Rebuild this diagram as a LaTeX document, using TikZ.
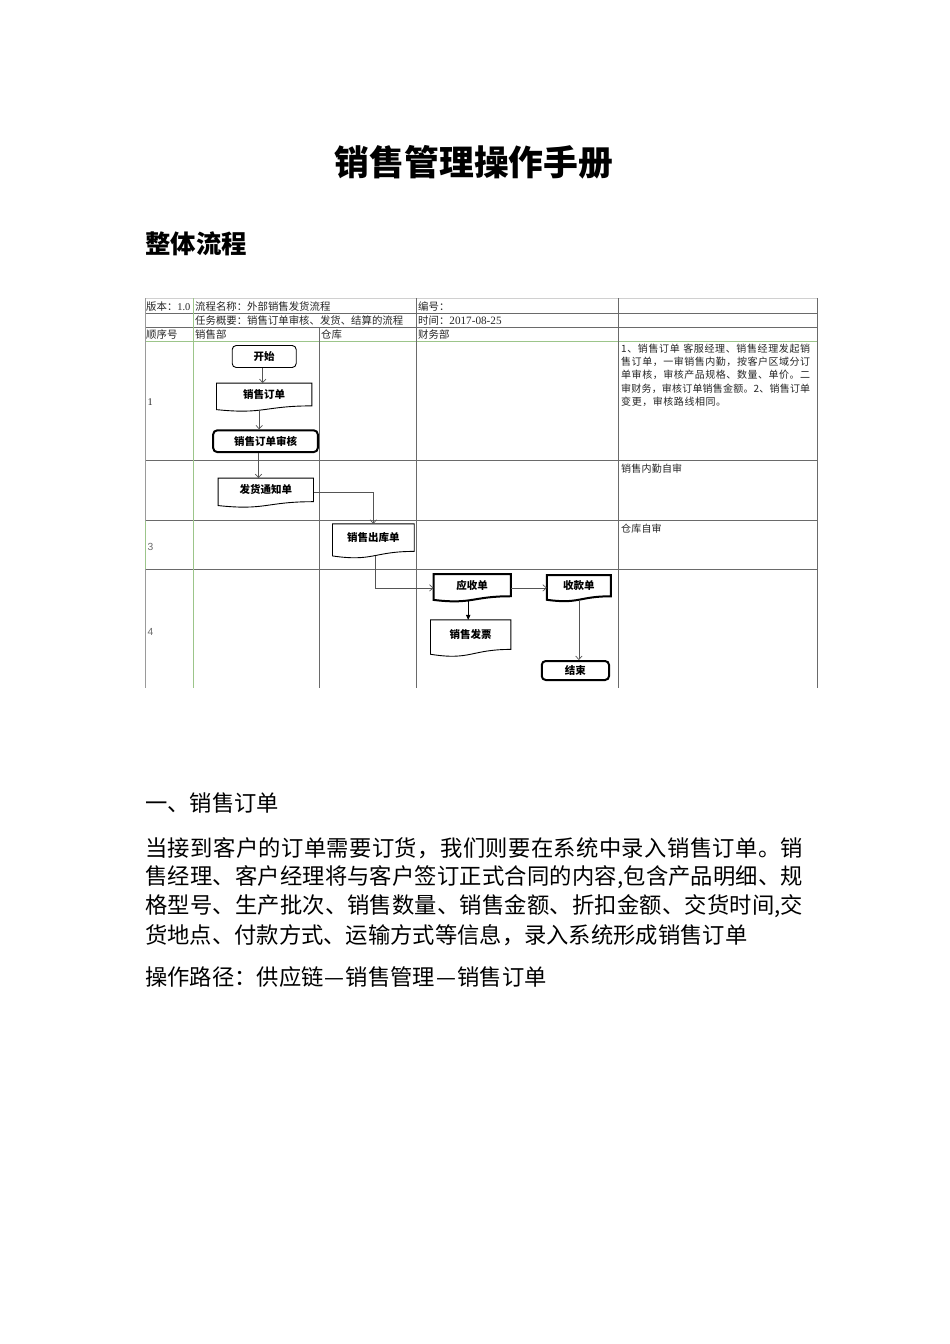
\documentclass[tikz,border=0pt]{standalone}
\usepackage{fontspec}
\setmainfont{Noto Sans CJK SC}
\newfontfamily\tser{Liberation Serif}
\newfontfamily\tsans{Liberation Sans}
\usetikzlibrary{calc,arrows.meta}

% spread characters evenly over a fixed-width box
\def\sprd#1{#1\sprdnext}
\def\sprdnext#1{\ifx#1\relax\else\hfil#1\expandafter\sprdnext\fi}
\newcommand\spreadline[2]{\makebox[#1][s]{\sprd #2\relax}}

\definecolor{gridc}{HTML}{6A6A6A}
\definecolor{greenc}{HTML}{9CC58A}
\definecolor{lightc}{HTML}{D0D0D0}
\definecolor{edgec}{HTML}{9A9A9A}
\definecolor{conc}{HTML}{555555}
\definecolor{txtc}{HTML}{262626}

\tikzset{
  grid/.style={draw=gridc, line width=0.9pt},
  ggrid/.style={draw=greenc, line width=0.9pt},
  lgrid/.style={draw=lightc, line width=0.9pt},
  egrid/.style={draw=edgec, line width=0.9pt},
  cell/.style={anchor=west, inner sep=0pt, font=\fontsize{10.4}{12}\selectfont, text=txtc},
  note/.style={anchor=west, inner sep=0pt, font=\fontsize{10}{12}\selectfont, text=txtc},
  rownum/.style={anchor=west, inner sep=0pt, font=\fontsize{10.3}{12}\selectfont, text=txtc},
  lbl/.style={inner sep=0pt, font=\fontsize{10.5}{12}\selectfont\bfseries, text=black},
  rbox/.style={draw=black, rounded corners=4pt, line width=0.9pt, inner sep=0pt, font=\fontsize{10.5}{12}\selectfont\bfseries},
  rboxb/.style={rbox, line width=2pt},
  dframe/.style={draw=none, inner sep=0pt},
  dline/.style={draw=black, line width=0.9pt},
  dlineb/.style={draw=black, line width=2pt},
  con/.style={draw=conc, line width=0.7pt, -{Straight Barb[length=3.5pt,width=6.5pt]}},
  conf/.style={draw=black, line width=0.7pt, -{Triangle[length=5pt,width=4.5pt]}},
  body/.style={anchor=west, inner sep=0pt, font=\fontsize{22.3}{29}\selectfont, text=black},
}

% document-shape: name, x1, y1, x2, y2, text, line style
\newcommand\docshape[7]{%
  \node[dframe, minimum width={#4-#2}, minimum height={#5-#3}] (#1) at ({(#2+#4)/2},{(#3+#5)/2}) {};
  \draw[#7] (#1.north west) -- (#1.north east) -- ($(#1.north east)!0.802!(#1.south east)$)
     .. controls ($(#1.north)!0.802!(#1.south)$) and ($(#1.north)!1.108!(#1.south)$) ..
     ($(#1.north west)!0.934!(#1.south west)$) -- cycle;
  \node[lbl] (#1-t) at ($(#1.north)!0.4!(#1.south)$) {#6};
  \coordinate (#1-b) at ($(#1.north)!0.933!(#1.south)$);
}

\begin{document}
\begin{tikzpicture}[x=1pt,y=-1pt]
\useasboundingbox (0,0) rectangle (950,1344);
\fill[white] (0,0) rectangle (950,1344);

% ---------- headings ----------
\node[font=\fontsize{34.8}{40}\selectfont\bfseries, inner sep=0pt] (title) at (474,162) {销售管理操作手册};
\node[font=\fontsize{25.4}{30}\selectfont\bfseries, inner sep=0pt, anchor=west] (sec) at (145,244) {整体流程};

% ---------- table grid ----------
\draw[lgrid] (145,298.3) -- (817,298.3);
\draw[grid] (145,313.5) -- (817,313.5);
\draw[grid] (145,327.3) -- (817,327.3);
\draw[ggrid] (145,341.5) -- (817,341.5);
\draw[grid] (145,460.5) -- (817,460.5);
\draw[grid] (145,520.5) -- (817,520.5);
\draw[grid] (145,569.3) -- (817,569.3);

\draw[egrid] (145,298.3) -- (145,520.5);
\draw[ggrid] (145,520.5) -- (145,569.3);
\draw[egrid] (145,569.3) -- (145,688);
\draw[ggrid] (193.3,298.3) -- (193.3,688);
\draw[grid] (319.3,327.3) -- (319.3,688);
\draw[grid] (416.7,298.3) -- (416.7,688);
\draw[grid] (618.3,298.3) -- (618.3,688);
\draw[grid] (817,298.3) -- (817,688);

% ---------- table header text ----------
\node[cell] (h1) at (146,306.7) {版本：{\tser 1.0}};
\node[cell] (h2) at (195,306.7) {流程名称：外部销售发货流程};
\node[cell] (h3) at (418,306.7) {编号：};
\node[cell] (h4) at (195,320.7) {任务概要：销售订单审核、发货、结算的流程};
\node[cell] (h5) at (418,320.7) {时间：{\tser\fontsize{11.2}{12}\selectfont 2017-08-25}};
\node[cell] (h6) at (146,335) {顺序号};
\node[cell] (h7) at (195,335) {销售部};
\node[cell] (h8) at (321,335) {仓库};
\node[cell] (h9) at (418,335) {财务部};

% row numbers
\node[rownum] (r1) at (147.5,401.7) {\tser 1};
\node[rownum, text=gridc] (r3) at (147.3,546.7) {\tsans 3};
\node[rownum, text=gridc] (r4) at (147.3,631.7) {\tsans 4};

% notes
\node[note] (n1) at (621,348.3) {\spreadline{189pt}{1、销售订单\ 客服经理、销售经理发起销}};
\node[note] (n2) at (621,361.7) {\spreadline{189pt}{售订单，一审销售内勤，按客户区域分订}};
\node[note] (n3) at (621,375) {\spreadline{189pt}{单审核，审核产品规格、数量、单价。二}};
\node[note] (n4) at (621,388.3) {\spreadline{189pt}{审财务，审核订单销售金额。2、销售订单}};
\node[note] (n5) at (621,401.7) {\spreadline{105pt}{变更，审核路线相同。}};
\node[note] (n6) at (621,468.3) {\spreadline{61pt}{销售内勤自审}};
\node[note] (n7) at (621,528.3) {\spreadline{40.5pt}{仓库自审}};

% ---------- flow shapes ----------
\node[rbox, minimum width=64pt, minimum height=22pt] (start) at (264.2,356.5) {开始};
\docshape{xsdd}{216.7}{383.3}{311.7}{411.3}{销售订单}{dline}
\node[rboxb, minimum width=104.6pt, minimum height=21.7pt] (shsh) at (265.5,441.2) {销售订单审核};
\docshape{fhtz}{218.3}{478.3}{313.3}{507.3}{发货通知单}{dline}
\docshape{xsck}{332.7}{524}{414}{558}{销售出库单}{dline}
\docshape{ysd}{433.7}{574.3}{510.7}{601.5}{应收单}{dlineb}
\docshape{sks}{547}{575.3}{610.7}{601.3}{收款单}{dlineb}
\docshape{xsfp}{430.7}{620}{510.7}{656.5}{销售发票}{dline}
\node[rboxb, minimum width=67.3pt, minimum height=19pt] (js) at (575.4,670.5) {结束};

% ---------- connectors ----------
\draw[con] ([xshift=-1.5pt]start.south) -- ([xshift=-1.5pt]start.south |- xsdd.north);
\draw[con] ([xshift=-5pt]xsdd-b) -- ([xshift=-5pt]xsdd-b |- shsh.north);
\draw[con] ([xshift=-7pt]shsh.south) -- ([xshift=-7pt]shsh.south |- fhtz.north);
\draw[con] (fhtz.east) -| (xsck.north);
\draw[con] ([xshift=2pt]xsck-b) |- (ysd.west);
\draw[con] (ysd.east) -- (ysd.east -| sks.west);
\draw[conf] ([xshift=-4pt]ysd-b) -- ([xshift=-4pt]ysd-b |- xsfp.north);
\draw[con] (sks-b) -- (sks-b |- js.north);

% ---------- body text ----------
\node[body] (s1) at (145,803) {一、销售订单};
\node[body] (p1) at (145,848) {\spreadline{658pt}{当接到客户的订单需要订货，我们则要在系统中录入销售订单。销}};
\node[body] (p2) at (145,877) {\spreadline{658pt}{售经理、客户经理将与客户签订正式合同的内容,包含产品明细、规}};
\node[body] (p3) at (145,906) {\spreadline{658pt}{格型号、生产批次、销售数量、销售金额、折扣金额、交货时间,交}};
\node[body] (p4) at (145,935) {货地点、付款方式、运输方式等信息，录入系统形成销售订单};
\node[body] (p5) at (145,977) {操作路径：供应链\makebox[22.3pt]{—}销售管理\makebox[22.3pt]{—}销售订单};
\end{tikzpicture}
\end{document}
